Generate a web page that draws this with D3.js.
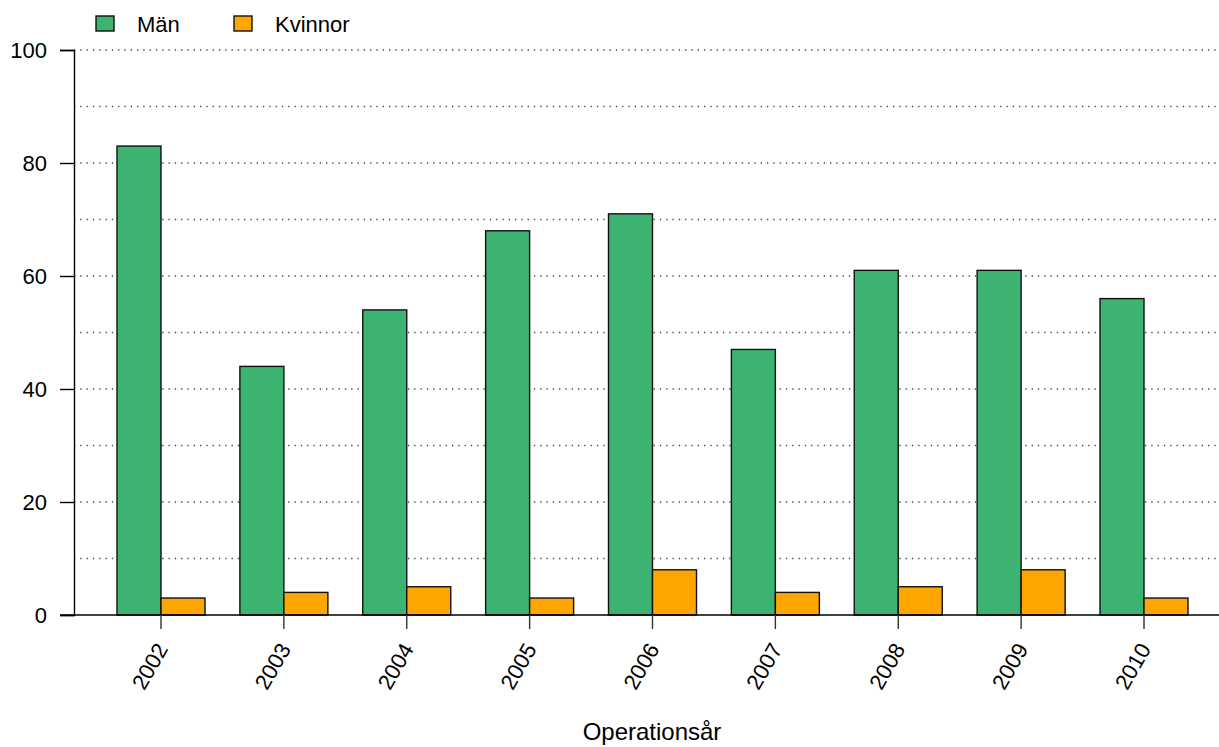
<!DOCTYPE html>
<html>
<head>
<meta charset="utf-8">
<script src="https://cdn.jsdelivr.net/npm/d3@7"></script>
<style>
  body { margin: 0; background: #fff; }
  text { font-family: "Liberation Sans", Arial, sans-serif; fill: #000; }
</style>
</head>
<body>
<div id="chart"></div>
<script>
// data
const years = ["2002", "2003", "2004", "2005", "2006", "2007", "2008", "2009", "2010"];
const series = ["Män", "Kvinnor"];
const man = [83, 44, 54, 68, 71, 47, 61, 61, 56];
const kvinnor = [3, 4, 5, 3, 8, 4, 5, 8, 3];
const yTicks = [0, 20, 40, 60, 80, 100];
const yGrid = [10, 20, 30, 40, 50, 60, 70, 80, 90, 100];

const width = 1219, height = 747;
const colors = {"Män": "#3CB371", "Kvinnor": "#FFA500"};

const svg = d3.select("#chart").append("svg")
    .attr("width", width)
    .attr("height", height);

// scales
const y = d3.scaleLinear().domain([0, 100]).range([615, 50]);
const pad = 0.2838;
const x0 = d3.scaleBand().domain(years)
    .range([99.56, 1205.44])
    .paddingInner(pad)
    .paddingOuter(pad / 2);
const x1 = d3.scaleBand().domain(series).range([0, x0.bandwidth()]);

// dotted grid
svg.append("g").selectAll("line")
    .data(yGrid)
    .join("line")
    .attr("x1", 74).attr("x2", width)
    .attr("y1", d => y(d)).attr("y2", d => y(d))
    .attr("stroke", "#444")
    .attr("stroke-width", 1.3)
    .attr("stroke-dasharray", "1.3,5");

// bars
const rows = years.map((yr, i) => ({year: yr, values: [
    {key: "Män", value: man[i]},
    {key: "Kvinnor", value: kvinnor[i]}
]}));

svg.append("g").selectAll("g")
    .data(rows)
    .join("g")
    .attr("transform", d => `translate(${x0(d.year)},0)`)
    .selectAll("rect")
    .data(d => d.values)
    .join("rect")
    .attr("x", d => x1(d.key))
    .attr("y", d => y(d.value))
    .attr("width", x1.bandwidth())
    .attr("height", d => y(0) - y(d.value))
    .attr("fill", d => colors[d.key])
    .attr("stroke", "#111")
    .attr("stroke-width", 1.4);

// baseline
svg.append("line")
    .attr("x1", 60).attr("x2", width)
    .attr("y1", y(0)).attr("y2", y(0))
    .attr("stroke", "#000").attr("stroke-width", 1.4);

// y axis
const yAxis = svg.append("g")
    .attr("transform", "translate(74,0)")
    .call(d3.axisLeft(y).tickValues(yTicks).tickSize(14).tickPadding(13));
yAxis.select(".domain").attr("stroke", "#000").attr("stroke-width", 1.4);
yAxis.selectAll(".tick line").attr("stroke", "#000").attr("stroke-width", 1.4);
yAxis.selectAll("text")
    .style("font-size", "22px")
    .style("font-family", "Liberation Sans, Arial, sans-serif");

// x ticks at group centres
const xTicks = svg.append("g").selectAll("g")
    .data(years)
    .join("g")
    .attr("transform", d => `translate(${x0(d) + x0.bandwidth() / 2},${y(0)})`);
xTicks.append("line")
    .attr("y1", 0).attr("y2", 14)
    .attr("stroke", "#333").attr("stroke-width", 1.4);
xTicks.append("text")
    .attr("transform", "translate(1,30) rotate(-60)")
    .attr("text-anchor", "end")
    .attr("dy", "0.35em")
    .style("font-size", "22px")
    .text(d => d);

// axis title
svg.append("text")
    .attr("x", 652).attr("y", 740)
    .attr("text-anchor", "middle")
    .style("font-size", "24px")
    .text("Operationsår");

// legend
const legend = svg.append("g").selectAll("g")
    .data(series)
    .join("g")
    .attr("transform", (d, i) => `translate(${[96, 234][i]},16)`);
legend.append("rect")
    .attr("width", 18).attr("height", 15)
    .attr("fill", d => colors[d])
    .attr("stroke", "#111").attr("stroke-width", 1.4);
legend.append("text")
    .attr("x", 41).attr("y", 16)
    .style("font-size", "22px")
    .text(d => d);
</script>
</body>
</html>
